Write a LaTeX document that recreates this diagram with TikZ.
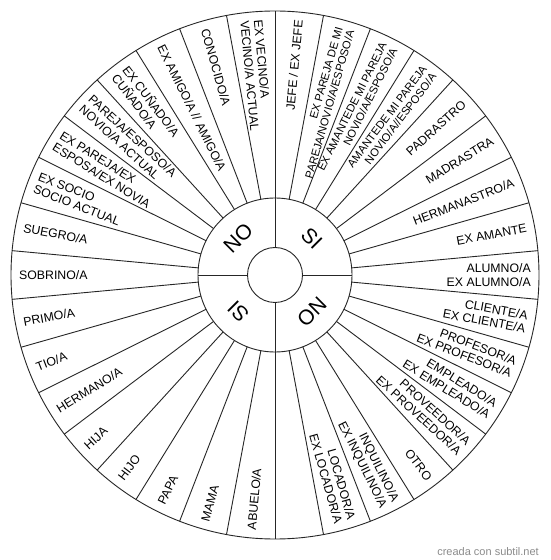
\documentclass[tikz,border=0pt]{standalone}
\usepackage{fontspec}
\setmainfont{Liberation Sans}
\tikzset{
  wheelline/.style={line width=0.9pt, draw=black!85},
  lbl/.style={inner sep=1pt, font=\fontsize{12.3}{13.5}\selectfont},
  hub/.style={inner sep=0pt, font=\fontsize{21}{24}\selectfont},
}
\newcommand\Rt{257}
\newcommand\wlR[3][]{%
  \pgfmathsetmacro\wang{90-(#2+0.5)*360/34}%
  \node[lbl,anchor=east,align=right,rotate=\wang,#1] (l#2) at (\wang:\Rt) {#3};}
\newcommand\wlL[3][]{%
  \pgfmathsetmacro\wang{90-(#2+0.5)*360/34}%
  \pgfmathsetmacro\wrot{\wang+180}%
  \node[lbl,anchor=west,align=left,rotate=\wrot,#1] (l#2) at (\wang:\Rt) {#3};}
\begin{document}
\begin{tikzpicture}[x=1pt,y=1pt]
\useasboundingbox (0,0) rectangle (550,560);
\fill[white] (0,0) rectangle (550,560);
\begin{scope}[shift={(275,285)}]
  \draw[wheelline] (0,0) circle[radius=264];
  \draw[wheelline] (0,0) circle[radius=77];
  \draw[wheelline] (0,0) circle[radius=27.5];
  \foreach \k in {0,...,33}{
    \draw[wheelline] (90-\k*360/34:77) -- (90-\k*360/34:264);
  }
  \foreach \a in {0,90,180,270}{
    \draw[wheelline] (\a:27.5) -- (\a:77);
  }
  % hub labels
  \node[hub,rotate=45] (hNO1) at (135:52) {NO};
  \node[hub,rotate=-45] (hSI1) at (45:52) {SI};
  \node[hub,rotate=-135] (hNO2) at (-45:52) {NO};
  \node[hub,rotate=135] (hSI2) at (-135:52) {SI};
  % right half
  \wlR{0}{JEFE / EX JEFE}
  \wlR[font=\fontsize{11.2}{12}\selectfont]{1}{EX PAREJA DE MI\\PAREJA/NOVIO/A/ESPOSO/A}
  \wlR[font=\fontsize{11.2}{12}\selectfont]{2}{EX AMANTEDE MI PAREJA\\NOVIO/A/ESPOSO/A}
  \wlR[font=\fontsize{11.2}{12}\selectfont]{3}{AMANTEDE MI PAREJA\\NOVIO/A//ESPOSO/A}
  \wlR{4}{PADRASTRO}
  \wlR{5}{MADRASTRA}
  \wlR{6}{HERMANASTRO/A}
  \wlR{7}{EX AMANTE}
  \wlR{8}{ALUMNO/A\\EX ALUMNO/A}
  \wlR{9}{CLIENTE/A\\EX CLIENTE/A}
  \wlR{10}{PROFESOR/A\\EX PROFESOR/A}
  \wlR{11}{EMPLEADO/A\\EX EMPLEADO/A}
  \wlR{12}{PROVEEDOR/A\\EX PROVEEDOR/A}
  \wlR{13}{OTRO}
  \wlR{14}{INQUILINO/A\\EX INQUILINO/A}
  \wlR{15}{LOCADOR/A\\EX LOCADOR/A}
  % left half
  \wlL{17}{ABUELO/A}
  \wlL{18}{MAMA}
  \wlL{19}{PAPA}
  \wlL{20}{HIJO}
  \wlL{21}{HIJA}
  \wlL{22}{HERMANO/A}
  \wlL{23}{TIO/A}
  \wlL{24}{PRIMO/A}
  \wlL{25}{SOBRINO/A}
  \wlL{26}{SUEGRO/A}
  \wlL{27}{EX SOCIO\\SOCIO ACTUAL}
  \wlL{28}{EX PAREJA/EX\\ESPOSA/EX NOVIA}
  \wlL{29}{PAREJA/ESPOSO/A\\NOVIO/A ACTUAL}
  \wlL{30}{EX CUÑADO/A\\CUÑADO/A}
  \wlL{31}{EX AMIGO/A // AMIGO/A}
  \wlL{32}{CONOCIDO/A}
  \wlL{33}{EX VECINO/A\\VECINO/A ACTUAL}
\end{scope}
\node[anchor=base east, inner sep=0pt, text=black!45, font=\fontsize{11}{13}\selectfont] (mark) at (539,5) {creada con subtil.net};
\end{tikzpicture}
\end{document}
